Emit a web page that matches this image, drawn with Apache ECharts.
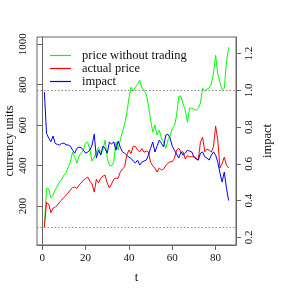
<!DOCTYPE html>
<html>
<head>
<meta charset="utf-8">
<script src="https://cdn.jsdelivr.net/npm/echarts@6/dist/echarts.min.js"></script>
<style>html,body{margin:0;padding:0;background:#fff}#c{width:300px;height:300px}</style>
</head>
<body>
<div id="c"></div>
<script>
const seriesNames = ["price without trading", "actual price", "impact"];
const priceWithoutTrading = [96,287,286,240,254,279,299,319,333,353,363,393,417,467,442,412,447,462,477,511,516,477,422,442,467,491,457,477,526,437,402,398,417,516,477,526,565,605,659,733,788,768,788,802,822,783,773,753,699,625,565,600,551,575,536,516,486,526,546,585,595,649,743,743,704,674,615,684,684,679,674,684,709,783,768,778,783,802,857,946,852,812,773,783,911,985];
const actualPrice = [96,218,210,167,189,194,205,220,230,242,254,264,281,291,294,287,304,314,328,336,343,323,309,269,333,315,338,348,353,314,289,309,333,338,337,368,383,393,452,477,460,496,494,477,468,484,466,472,467,417,398,388,368,388,378,383,400,412,419,419,435,477,486,466,468,432,449,445,444,444,437,427,516,541,468,481,477,467,493,595,526,388,411,442,402,388];
const impact = [0.99,0.765,0.740,0.720,0.751,0.711,0.705,0.702,0.711,0.712,0.704,0.702,0.696,0.674,0.658,0.684,0.691,0.688,0.674,0.658,0.664,0.674,0.702,0.761,0.631,0.674,0.647,0.696,0.685,0.658,0.718,0.707,0.720,0.674,0.723,0.691,0.665,0.658,0.647,0.636,0.629,0.615,0.604,0.620,0.593,0.609,0.615,0.620,0.647,0.685,0.718,0.664,0.696,0.729,0.712,0.692,0.756,0.761,0.740,0.696,0.674,0.653,0.631,0.664,0.647,0.658,0.674,0.669,0.664,0.636,0.626,0.620,0.658,0.664,0.638,0.631,0.620,0.647,0.665,0.647,0.609,0.549,0.501,0.555,0.468,0.40];
const xTicks = [0, 20, 40, 60, 80];
const leftTicks = [200, 400, 600, 800, 1000];
const rightTicks = [0.2, 0.4, 0.6, 0.8, 1.0, 1.2];
const priceRefLine = 95;
const impactRefLine = 1.0;

const font = "'Liberation Serif', 'DejaVu Serif', serif";
const axisColor = '#666';
const toPairs = arr => arr.map((v, i) => [i + 1, v]);
const fmt1 = v => (Math.round(v * 10) / 10).toFixed(1);
const fmt0 = v => String(Math.round(v));

const chart = echarts.init(document.getElementById('c'), null, {renderer: 'canvas'});
const dotted = (val, axisKey) => ({
  silent: true, symbol: 'none', label: {show: false},
  lineStyle: {type: [1.5, 2], color: '#888', width: 1},
  data: [{[axisKey]: val}]
});
chart.setOption({
  animation: false,
  textStyle: {fontFamily: font},
  grid: {left: 37, right: 64, top: 37, bottom: 55, show: true, borderColor: axisColor, borderWidth: 1, backgroundColor: 'transparent', containLabel: false, outerBoundsMode: 'none'},
  legend: {
    orient: 'vertical', left: 45, top: 44, itemGap: 0,
    icon: 'rect', itemWidth: 21, itemHeight: 1.2,
    textStyle: {fontFamily: font, fontSize: 12.5, color: '#111', padding: [0, 0, 0, 6], lineHeight: 13},
    data: seriesNames
  },
  xAxis: {
    type: 'value', min: -2.4, max: 89.4,
    name: 't', nameLocation: 'middle', nameGap: 26, nameMoveOverlap: false,
    nameTextStyle: {fontFamily: font, fontSize: 12.5, color: '#111'},
    axisLine: {show: true, lineStyle: {color: axisColor}},
    axisTick: {show: true, customValues: xTicks, length: 5, lineStyle: {color: axisColor}},
    axisLabel: {customValues: xTicks, fontFamily: font, fontSize: 11, color: '#111', margin: 8},
    splitLine: {show: false}
  },
  yAxis: [{
    type: 'value', min: 7.4, max: 1036, position: 'left',
    name: 'currency units', nameLocation: 'middle', nameGap: 21, nameRotate: 90, nameMoveOverlap: false,
    nameTextStyle: {fontFamily: font, fontSize: 12.5, color: '#111'},
    axisLine: {show: true, lineStyle: {color: axisColor}},
    axisTick: {show: true, customValues: leftTicks, length: 5, lineStyle: {color: axisColor}},
    axisLabel: {customValues: leftTicks, rotate: 90, formatter: fmt0, fontFamily: font, fontSize: 11, color: '#111', margin: 8},
    splitLine: {show: false}
  }, {
    type: 'value', min: 0.158, max: 1.290, position: 'right',
    name: 'impact', nameLocation: 'middle', nameGap: 25, nameRotate: 90, nameMoveOverlap: false,
    nameTextStyle: {fontFamily: font, fontSize: 12.5, color: '#111'},
    axisLine: {show: true, lineStyle: {color: axisColor}},
    axisTick: {show: true, customValues: rightTicks, length: 5, lineStyle: {color: axisColor}},
    axisLabel: {customValues: rightTicks, rotate: 90, formatter: fmt1, fontFamily: font, fontSize: 11, color: '#111', margin: 8},
    splitLine: {show: false}
  }],
  series: [{
    name: seriesNames[0], type: 'line', data: toPairs(priceWithoutTrading), yAxisIndex: 0,
    symbol: 'none', lineStyle: {width: 1, color: '#00ff00'}, itemStyle: {color: '#00ff00'}
  }, {
    name: seriesNames[1], type: 'line', data: toPairs(actualPrice), yAxisIndex: 0,
    symbol: 'none', lineStyle: {width: 1, color: '#ff0000'}, itemStyle: {color: '#ff0000'},
    markLine: dotted(priceRefLine, 'yAxis')
  }, {
    name: seriesNames[2], type: 'line', data: toPairs(impact), yAxisIndex: 1,
    symbol: 'none', lineStyle: {width: 1, color: '#0000ff'}, itemStyle: {color: '#0000ff'},
    markLine: dotted(impactRefLine, 'yAxis')
  }]
});
</script>
</body>
</html>
